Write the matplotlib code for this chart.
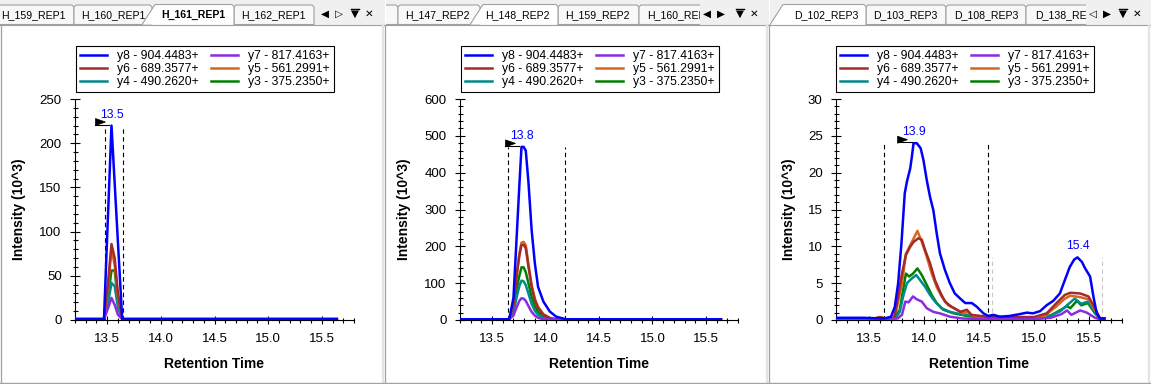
import numpy as np
import matplotlib
matplotlib.use("Agg")
import matplotlib.pyplot as plt
from matplotlib.patches import Polygon, Rectangle
import matplotlib.transforms as mtransforms
from matplotlib.ticker import MultipleLocator, FormatStrFormatter

plt.rcParams['font.family'] = ['Liberation Sans', 'DejaVu Sans']

# ---------------------------------------------------------------- data
ions = ['y8', 'y7', 'y6', 'y5', 'y4', 'y3']
ion_labels = ['y8 - 904.4483+', 'y7 - 817.4163+', 'y6 - 689.3577+',
              'y5 - 561.2991+', 'y4 - 490.2620+', 'y3 - 375.2350+']

# panel 1 : H_161_REP1
p1_time = [13.21, 13.47, 13.51, 13.54, 13.57, 13.60, 13.64, 15.64]
p1_y8 = [1, 1, 126, 220, 154, 88, 1, 1]
p1_y7 = [1, 1, 14, 25, 17, 6, 1, 1]
p1_y6 = [1, 1, 45, 86, 70, 30, 1, 1]
p1_y5 = [1, 1, 40, 80, 62, 26, 1, 1]
p1_y4 = [1, 1, 20, 42, 38, 14, 1, 1]
p1_y3 = [1, 1, 28, 56, 56, 20, 1, 1]
p1_peak_rt = [13.5]
p1_bounds = [13.48, 13.65]

# panel 2 : H_148_REP2
p2_time = [13.21, 13.66, 13.70, 13.73, 13.755, 13.775, 13.795, 13.815, 13.84,
           13.87, 13.90, 13.93, 13.98, 14.04, 14.10, 14.19, 15.64]
p2_y8 = [2, 2, 60, 226, 365, 470, 470, 460, 375, 244, 154, 90, 50, 23, 9, 2, 2]
p2_y7 = [2, 2, 12, 35, 52, 59, 58, 52, 38, 22, 12, 6, 2, 2, 2, 2, 2]
p2_y6 = [2, 2, 40, 120, 175, 203, 204, 195, 145, 90, 54, 33, 14, 5, 2, 2, 2]
p2_y5 = [2, 2, 42, 125, 180, 210, 212, 203, 152, 95, 58, 36, 16, 6, 2, 2, 2]
p2_y4 = [2, 2, 22, 62, 92, 107, 105, 95, 72, 44, 25, 14, 5, 2, 2, 2, 2]
p2_y3 = [2, 2, 30, 85, 120, 143, 143, 130, 100, 62, 38, 22, 9, 3, 2, 2, 2]
p2_peak_rt = [13.8]
p2_bounds = [13.65, 14.18]

# panel 3 : D_102_REP3
p3_y8_t = [13.21, 13.45, 13.64, 13.70, 13.735, 13.765, 13.795, 13.825, 13.845,
           13.875, 13.89, 13.905, 13.935, 13.97, 13.995, 14.025, 14.055, 14.085,
           14.115, 14.145, 14.19, 14.235, 14.28, 14.33, 14.375, 14.435, 14.48,
           14.54, 14.585, 14.63, 14.69, 14.78, 14.87, 14.935, 14.99, 15.055,
           15.115, 15.175, 15.235, 15.28, 15.325, 15.365, 15.395, 15.435,
           15.465, 15.51, 15.54, 15.57, 15.60, 15.64]
p3_y8 = [0.3, 0.3, 0.2, 0.45, 1.8, 5.0, 10.4, 17.2, 18.8, 20.6, 22.2, 24.0,
         24.0, 23.3, 21.7, 19.0, 16.7, 14.9, 11.8, 9.05, 6.8, 5.0, 3.6, 2.9,
         2.3, 2.3, 1.8, 0.9, 0.55, 0.7, 0.45, 0.55, 0.8, 1.0, 0.9, 1.2, 2.0,
         2.6, 3.6, 5.4, 7.2, 8.2, 8.5, 7.9, 7.0, 5.9, 3.2, 0.9, 0.2, 0.2]
p3_y5_t = [13.21, 13.55, 13.60, 13.65, 13.72, 13.75, 13.80, 13.835, 13.89, 13.94,
           13.98, 14.025, 14.07, 14.115, 14.16, 14.22, 14.30, 14.36, 14.40, 14.45,
           14.60, 14.80, 15.0, 15.10, 15.20, 15.28, 15.33, 15.42, 15.50, 15.555,
           15.60, 15.64]
p3_y5 = [0.2, 0.2, 0.4, 0.2, 0.3, 1.4, 5.0, 9.0, 10.6, 12.1, 10.6, 8.6, 6.3,
         4.5, 3.2, 2.0, 1.4, 0.9, 1.1, 0.5, 0.3, 0.3, 0.3, 0.6, 1.8, 2.9, 3.3,
         3.1, 2.8, 1.3, 0.2, 0.2]
p3_y6_t = [13.21, 13.55, 13.60, 13.65, 13.73, 13.765, 13.80, 13.835, 13.875,
           13.905, 13.95, 13.98, 14.01, 14.055, 14.10, 14.145, 14.19, 14.25,
           14.33, 14.39, 14.43, 14.60, 14.80, 15.00, 15.115, 15.205, 15.28,
           15.33, 15.42, 15.495, 15.555, 15.60, 15.64]
p3_y6 = [0.2, 0.2, 0.4, 0.2, 0.3, 3.2, 6.3, 8.8, 9.95, 10.6, 11.1, 10.9, 9.5,
         7.7, 5.4, 3.85, 2.5, 1.8, 1.1, 1.4, 0.7, 0.4, 0.4, 0.4, 0.9, 2.3, 3.4,
         3.7, 3.6, 3.2, 1.6, 0.2, 0.2]
p3_y3_t = [13.21, 13.73, 13.78, 13.81, 13.835, 13.865, 13.90, 13.94, 13.98,
           14.025, 14.07, 14.115, 14.175, 14.27, 14.39, 14.60, 14.80, 15.00,
           15.15, 15.27, 15.30, 15.33, 15.39, 15.43, 15.49, 15.555, 15.60, 15.64]
p3_y3 = [0.2, 0.2, 1.4, 4.1, 6.3, 5.9, 6.3, 7.0, 6.1, 4.75, 3.4, 2.3, 1.4, 0.9,
         0.55, 0.2, 0.2, 0.3, 0.6, 1.6, 1.9, 1.6, 2.6, 2.0, 2.3, 0.9, 0.2, 0.2]
p3_y4_t = [13.21, 13.74, 13.78, 13.81, 13.845, 13.89, 13.93, 13.965, 14.01,
           14.055, 14.10, 14.16, 14.235, 14.33, 14.60, 14.80, 15.00, 15.15,
           15.24, 15.30, 15.37, 15.43, 15.49, 15.555, 15.60, 15.64]
p3_y4 = [0.2, 0.2, 1.1, 3.2, 5.0, 5.65, 6.1, 5.4, 4.5, 3.4, 2.5, 1.6, 1.1, 0.8,
         0.3, 0.2, 0.3, 0.6, 1.2, 2.0, 2.9, 2.2, 2.5, 1.1, 0.2, 0.2]
p3_y7_t = [13.21, 13.76, 13.80, 13.83, 13.86, 13.90, 13.935, 13.98, 14.025,
           14.085, 14.145, 14.235, 14.35, 14.60, 14.80, 15.00, 15.15, 15.25,
           15.30, 15.34, 15.42, 15.48, 15.555, 15.60, 15.64]
p3_y7 = [0.2, 0.2, 0.7, 2.5, 2.4, 3.2, 2.8, 2.5, 1.6, 1.1, 0.9, 0.45, 0.2, 0.1,
         0.1, 0.1, 0.3, 0.8, 1.3, 0.7, 1.3, 1.0, 0.3, 0.1, 0.1]
p3_peak_rt = [13.9, 15.4]
p3_bounds = [13.64, 14.585]
p3_bounds_alt = [14.62, 15.62]

# tab captions as visible (last ones are cut off by the tab strip buttons)
p1_tabs = ['H_159_REP1', 'H_160_REP1', 'H_161_REP1', 'H_162_REP1']
p2_tabs = ['H_147_REP2', 'H_148_REP2', 'H_159_REP2', 'H_160_REP']
p3_tabs = ['D_102_REP3', 'D_103_REP3', 'D_108_REP3', 'D_138_RE']

# ---------------------------------------------------------------- styles
ion_colors = {'y8': '#0000FF', 'y7': '#8A2BE2', 'y6': '#A52A2A',
              'y5': '#D2691E', 'y4': '#008B8B', 'y3': '#008000'}
draw_order = ['y3', 'y4', 'y5', 'y6', 'y7', 'y8']

W, H = 1151, 384
fig = plt.figure(figsize=(W / 100, H / 100), dpi=100)
fig.patch.set_facecolor('white')

bg = fig.add_axes([0, 0, 1, 1], zorder=-10)
bg.set_xlim(0, W)
bg.set_ylim(H, 0)
bg.axis('off')

STRIP = '#F0F0F0'
TABFILL = '#F8F8F8'
EDGE = '#A0A0A0'
TAB_FS = 7.6


def tab_strip(x0, x1, tabs, nav_x, nav_glyphs, clip_x):
    bg.add_patch(Rectangle((x0, 0), x1 - x0, 24.5, facecolor=STRIP,
                           edgecolor='none'))
    clip = Rectangle((x0, 0), clip_x - x0, 25, transform=bg.transData)
    for (name, xl, xr, cx, ha, active, slant, bold) in tabs:
        if active:
            xb, xt = slant
            poly = [(xb, 24.6), (xt, 4.5), (xr - 2, 4.5), (xr, 6.5), (xr, 24.6)]
            bg.add_patch(Polygon(poly, closed=True, facecolor='white',
                                 edgecolor='none', zorder=3))
            xs, ys = zip(*poly)
            bg.plot(xs, ys, color=EDGE, lw=0.8, zorder=4)
        else:
            poly = [(xl, 24.5), (xl, 7), (xl + 2, 5), (xr - 2, 5), (xr, 7),
                    (xr, 24.5)]
            p = Polygon(poly, closed=True, facecolor=TABFILL, edgecolor=EDGE,
                        lw=0.8, zorder=1)
            bg.add_patch(p)
            p.set_clip_path(clip)
        if name:
            t = bg.text(cx, 15.0, name, ha=ha, va='center', fontsize=TAB_FS,
                        fontweight='bold' if bold else 'normal', color='black',
                        zorder=5, clip_on=True)
            t.set_clip_path(clip)
    bg.plot([x0, x1], [24.5, 24.5], color=EDGE, lw=0.8, zorder=2)
    for gx, g in zip(nav_x, nav_glyphs):
        bg.text(gx, 13.5, g, ha='center', va='center', fontsize=7.5,
                family='DejaVu Sans', color='black', zorder=5)
    # overline of the drop-down glyph
    bg.plot([nav_x[2] - 4, nav_x[2] + 4], [9.0, 9.0], color='black',
            lw=1.0, zorder=5)


# panel 1 tabs
tab_strip(0, 385, [
    (p1_tabs[0], -10, 74, 33.5, 'center', False, None, False),
    (p1_tabs[1], 74, 152, 113.3, 'center', False, None, False),
    (p1_tabs[3], 234, 314, 273, 'center', False, None, False),
    (p1_tabs[2], 142, 234, 193.5, 'center', True, (142, 155), True),
], [325, 339, 355, 369], ['\u25C0', '\u25B7', '\u25BC', '\u2715'], 318)
# panel 2 tabs
tab_strip(386, 769, [
    ('', 370, 398, 390, 'center', False, None, False),
    (p2_tabs[0], 398, 480, 437.3, 'center', False, None, False),
    (p2_tabs[2], 558, 639, 597.5, 'center', False, None, False),
    (p2_tabs[3], 639, 720, 646.7, 'left', False, None, False),
    (p2_tabs[1], 470, 558, 517.5, 'center', True, (470, 483), False),
], [707, 721, 740, 754], ['\u25C0', '\u25B6', '\u25BC', '\u2715'], 700)
# panel 3 tabs
tab_strip(770, 1151, [
    (p3_tabs[1], 866, 946, 905.8, 'center', False, None, False),
    (p3_tabs[2], 946, 1026, 986.3, 'center', False, None, False),
    (p3_tabs[3], 1026, 1106, 1034.7, 'left', False, None, False),
    (p3_tabs[0], 770, 866, 826.5, 'center', True, (770, 783), False),
], [1093, 1107, 1123, 1137], ['\u25C1', '\u25B6', '\u25BC', '\u2715'], 1086)

# panel borders
for x in [0.5, 385.5, 769.5]:
    bg.plot([x, x], [24.5, 384], color=EDGE, lw=0.9, zorder=6)
for x in [383.5, 767.5, 1149.5]:
    bg.plot([x, x], [25, 382], color='#E3E3E3', lw=1.6, zorder=6)
bg.plot([0, W], [382.5, 382.5], color=EDGE, lw=1.0, zorder=6)
bg.plot([0, W], [383.6, 383.6], color='#E8E8E8', lw=0.8, zorder=6)


def make_axes(x0, x1, ymax, ymaj, ymin, label_x):
    ax = fig.add_axes([x0 / W, (H - 320) / H, (x1 - x0) / W, (320 - 99) / H])
    ax.patch.set_alpha(0)
    ax.set_xlim(13.2, 15.8)
    ax.set_ylim(0, ymax)
    for s in ['top', 'right']:
        ax.spines[s].set_visible(False)
    for s in ['left', 'bottom']:
        ax.spines[s].set_linewidth(0.8)
        ax.spines[s].set_color('black')
    ax.xaxis.set_major_locator(MultipleLocator(0.5))
    ax.xaxis.set_minor_locator(MultipleLocator(0.1))
    ax.xaxis.set_major_formatter(FormatStrFormatter('%.1f'))
    ax.yaxis.set_major_locator(MultipleLocator(ymaj))
    ax.yaxis.set_minor_locator(MultipleLocator(ymin))
    ax.tick_params(axis='both', which='major', direction='inout', width=0.8,
                   labelsize=9.5, colors='black')
    ax.tick_params(axis='y', which='major', length=7.2, pad=6.0)
    ax.tick_params(axis='x', which='major', length=5.8, pad=6.5)
    ax.tick_params(axis='both', which='minor', direction='inout', length=3.6,
                   width=0.8)
    ax.set_xlabel('Retention Time', fontsize=10, fontweight='bold')
    ax.set_ylabel('Intensity (10^3)', fontsize=10, fontweight='bold')
    ax.xaxis.set_label_coords(0.5, -0.168)
    ax.yaxis.set_label_coords(label_x, 0.5)
    return ax


def draw_series(ax, series):
    lines = {}
    for ion in draw_order:
        t, v = series[ion]
        ln, = ax.plot(t, v, color=ion_colors[ion], lw=1.8, zorder=3,
                      solid_joinstyle='round', label=ion_labels[ions.index(ion)])
        lines[ion] = ln
    return lines


def legend(ax, lines, x_px):
    order = ['y8', 'y6', 'y4', 'y7', 'y5', 'y3']
    leg = ax.legend([lines[i] for i in order],
                    [ion_labels[ions.index(i)] for i in order],
                    ncol=2, loc='upper left',
                    bbox_to_anchor=(x_px / W, 1 - 46 / H),
                    bbox_transform=fig.transFigure, borderaxespad=0,
                    fontsize=8.8, handlelength=2.2, handletextpad=0.85,
                    columnspacing=0.95, labelspacing=0.08, borderpad=0.33,
                    frameon=True, fancybox=False, framealpha=1,
                    edgecolor='black')
    leg.get_frame().set_linewidth(0.8)
    leg.set_zorder(10)


def apex_of(t, v, lo, hi):
    t = np.asarray(t)
    v = np.asarray(v)
    m = (t >= lo) & (t <= hi)
    i = np.argmax(np.where(m, v, -np.inf))
    return t[i], v[i]


def peak_marks(ax, t8, v8, bounds, rt, flag, color='black'):
    at, av = apex_of(t8, v8, bounds[0], bounds[1])
    for b in bounds:
        ax.plot([b, b], [0, av], color=color, lw=0.8, ls=(0, (4, 3)),
                zorder=2)
    ax.annotate(f'{rt:.1f}', xy=(at, av), xytext=(0, 3.6),
                textcoords='offset points', ha='center', va='bottom',
                fontsize=8.8, color='#0000FF')
    if flag:
        trans = fig.dpi_scale_trans + mtransforms.ScaledTranslation(at, av, ax.transData)
        tri = Polygon(np.array([[-16, 0], [-16, 7], [-6, 3.5]]) / 100.0,
                      closed=True, facecolor='black', edgecolor='black',
                      lw=0.5, transform=trans, zorder=5)
        ax.add_patch(tri)
        ax.plot(np.array([-16, -2]) / 100.0, np.array([1.0, 1.0]) / 100.0,
                color='black', lw=0.8, transform=trans, zorder=5)


# ---- panel 1
ax1 = make_axes(75, 354, 250, 50, 10, -0.1746)
l1 = draw_series(ax1, {'y8': (p1_time, p1_y8), 'y7': (p1_time, p1_y7),
                       'y6': (p1_time, p1_y6), 'y5': (p1_time, p1_y5),
                       'y4': (p1_time, p1_y4), 'y3': (p1_time, p1_y3)})
peak_marks(ax1, p1_time, p1_y8, p1_bounds, p1_peak_rt[0], True)
legend(ax1, l1, 76)

# ---- panel 2
ax2 = make_axes(460, 738, 600, 100, 20, -0.175)
l2 = draw_series(ax2, {'y8': (p2_time, p2_y8), 'y7': (p2_time, p2_y7),
                       'y6': (p2_time, p2_y6), 'y5': (p2_time, p2_y5),
                       'y4': (p2_time, p2_y4), 'y3': (p2_time, p2_y3)})
peak_marks(ax2, p2_time, p2_y8, p2_bounds, p2_peak_rt[0], True)
legend(ax2, l2, 461)

# ---- panel 3
ax3 = make_axes(836, 1122, 30, 5, 1, -0.139)
l3 = draw_series(ax3, {'y8': (p3_y8_t, p3_y8), 'y7': (p3_y7_t, p3_y7),
                       'y6': (p3_y6_t, p3_y6), 'y5': (p3_y5_t, p3_y5),
                       'y4': (p3_y4_t, p3_y4), 'y3': (p3_y3_t, p3_y3)})
peak_marks(ax3, p3_y8_t, p3_y8, p3_bounds, p3_peak_rt[0], True)
peak_marks(ax3, p3_y8_t, p3_y8, p3_bounds_alt, p3_peak_rt[1], False,
           color='#C8C8C8')
legend(ax3, l3, 836)

fig.savefig('out.png', dpi=100, facecolor='white')
